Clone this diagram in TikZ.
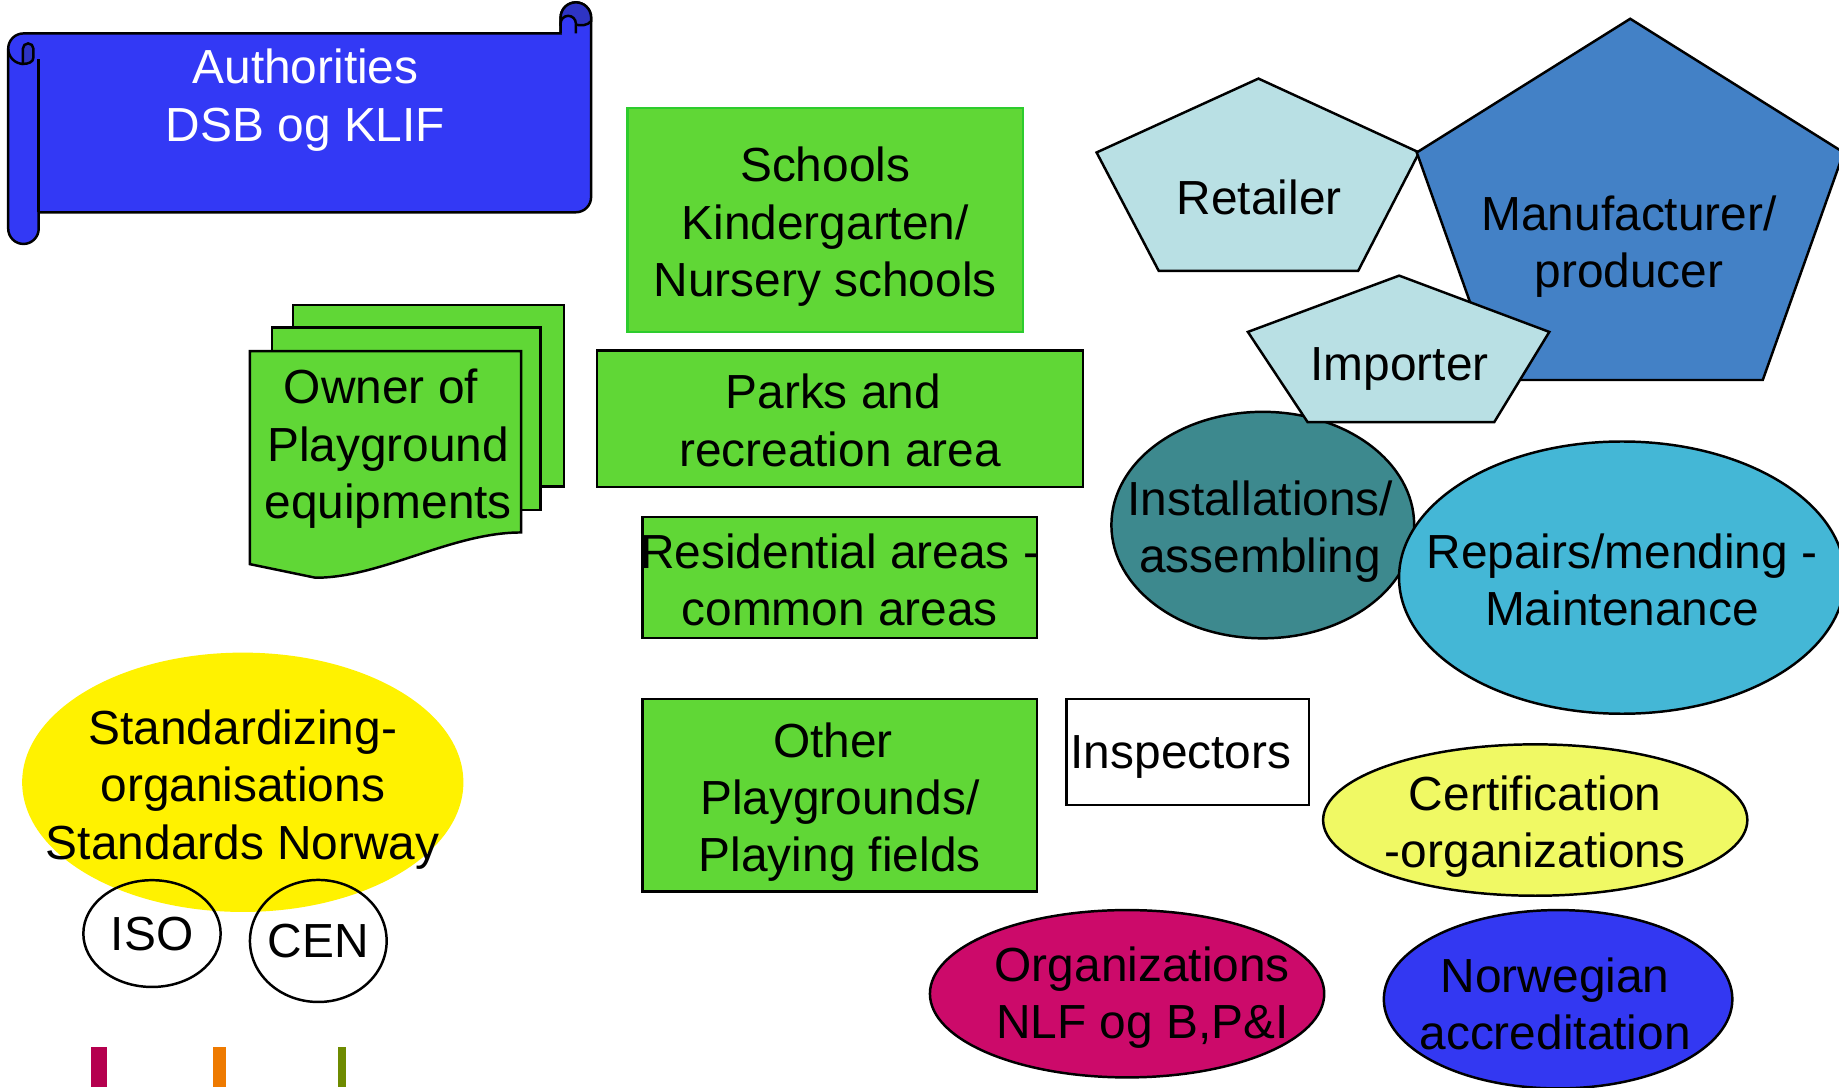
\documentclass[tikz,border=0pt]{standalone}
\usepackage{fontspec}
\setmainfont{Liberation Sans}
\usetikzlibrary{shapes.geometric}

\definecolor{scrollblue}{HTML}{3339F5}
\definecolor{curlblue}{HTML}{2E34C4}
\definecolor{playgreen}{HTML}{60D736}
\definecolor{schoolgreen}{HTML}{2DCC2D}
\definecolor{paleblue}{HTML}{B9E0E4}
\definecolor{makerblue}{HTML}{4381C6}
\definecolor{tealgreen}{HTML}{3D898E}
\definecolor{repaircyan}{HTML}{44B7D6}
\definecolor{certyellow}{HTML}{F0F964}
\definecolor{orgmagenta}{HTML}{CC0A6A}
\definecolor{accblue}{HTML}{3338F2}
\definecolor{barred}{HTML}{B5004E}
\definecolor{barorange}{HTML}{EE7A00}
\definecolor{barolive}{HTML}{6E8B00}

\begin{document}
\begin{tikzpicture}[x=0.01cm, y=-0.01cm, line width=0.6pt,
  txt/.style={font=\fontsize{11.6}{13.9}\selectfont, align=center, inner sep=0pt},
  box/.style={draw, fill=playgreen, inner sep=0pt},
  oval/.style={ellipse, draw, inner sep=0pt},
  curl/.style={fill=curlblue, draw}]
  \useasboundingbox (0,0) rectangle (1568,927);
  \draw[fill=scrollblue] (33,181) -- (491,181) arc (90:0:13) -- (504,15) arc (0:-180:13)
    -- (478,28.5) -- (20,28.5) arc (-90:-180:13) -- (7,195) arc (180:0:13) -- cycle;
  \draw (33,181) -- (33,50);
  \draw (7,41.5) arc (180:90:13);
  \filldraw[curl] (19.5,54.5) -- (19.5,41.5) arc (180:360:4.5) -- (28.5,49)
    .. controls (28.5,53) and (24,54.5) .. (19.5,54.5) -- cycle;
  \filldraw[curl] (478,15) arc (180:360:13) -- (504,18) .. controls (501,22) and (495,22) .. (491,21) -- (478,21) -- cycle;
  \filldraw[fill=scrollblue] (478,28.5) -- (478,20) arc (180:360:6.5) -- (491,28.5);
  \node[txt, text=white] (auth) at (260.5,85.4) {Authorities\\DSB og KLIF};
  \draw[fill=playgreen] (250,260) rectangle (481,415);
  \draw[fill=playgreen] (232,279.4) rectangle (461,435);
  \draw[fill=playgreen] (213,299.3) -- (444.3,299.3) -- (444.3,454)
    .. controls (385,454) and (325,492.6) .. (269,492.6) -- (213,481) -- cycle;
  \node[txt] (owner) at (331,382.7) {Owner of\kern0.3em\\Playground\\equipments};
  \node[box, draw=schoolgreen, minimum width=3.37cm, minimum height=1.91cm,
    label={[txt, yshift=-0.06cm]center:Schools\\Kindergarten/\\Nursery schools}] (schools) at (703.6,187.5) {};
  \node[box, minimum width=4.14cm, minimum height=1.16cm,
    label={[txt, yshift=-0.015cm]center:Parks and\kern0.278em\\recreation area}] (parks) at (716.2,357) {};
  \node[box, minimum width=3.36cm, minimum height=1.03cm,
    label={[txt, yshift=-0.02cm]center:Residential areas -\\common areas}] (resid) at (716,492.4) {};
  \node[box, minimum width=3.36cm, minimum height=1.64cm,
    label={[txt, yshift=-0.06cm]center:Other\kern0.278em\\Playgrounds/\\Playing fields}] (other) at (716,677.9) {};
  \node[ellipse, fill=yellow, inner sep=0pt, minimum width=3.76cm, minimum height=2.21cm,
    label={[txt, yshift=-0.06cm]center:Standardizing-\\organisations\\Standards Norway}] (std) at (207,667) {};
  \node[oval, txt, minimum width=1.17cm, minimum height=0.91cm] (iso) at (129.6,796) {ISO};
  \node[oval, minimum width=1.165cm, minimum height=1.04cm,
    label={[txt]center:CEN}] (cen) at (271.4,802.3) {};
  \fill[barred] (78,893) rectangle (91,927);
  \fill[barorange] (182,893) rectangle (193,927);
  \fill[barolive] (288,893) rectangle (295,927);
  \draw[fill=paleblue] (1073,67) -- (1210,130) -- (1158,231) -- (988,231) -- (935,130) -- cycle;
  \node[txt] (retailer) at (1073.6,168.4) {Retailer};
  \draw[fill=makerblue] (1390,16) -- (1572,130) -- (1503,324) -- (1277,324) -- (1208,130) -- cycle;
  \node[txt] (maker) at (1389,210.4) {Manufacturer/\\producer};
  \node[oval, fill=tealgreen, minimum width=2.58cm, minimum height=1.93cm,
    label={[txt, xshift=-0.022cm, yshift=-0.058cm]center:Installations/\\assembling}] (install) at (1076.7,447.7) {};
  \node[oval, fill=repaircyan, minimum width=3.8cm, minimum height=2.32cm,
    label={[txt, yshift=-0.02cm]center:Repairs/mending -\\Maintenance}] (repair) at (1383,492.5) {};
  \draw[fill=paleblue] (1193,235) -- (1321,283) -- (1274,360) -- (1115,360) -- (1064,283) -- cycle;
  \node[txt] (importer) at (1193.4,314.2) {Importer};
  \node[draw, fill=white, inner sep=0pt, minimum width=2.07cm, minimum height=0.905cm,
    label={[txt, xshift=-0.057cm, yshift=-0.042cm]center:Inspectors}] (insp) at (1012.7,641.2) {};
  \node[oval, fill=certyellow, minimum width=3.615cm, minimum height=1.29cm,
    label={[txt, yshift=-0.058cm]center:Certification\\-organizations}] (cert) at (1309,699.2) {};
  \node[oval, fill=orgmagenta, minimum width=3.36cm, minimum height=1.426cm,
    label={[txt, xshift=0.13cm, yshift=-0.033cm]center:Organizations\\NLF og B,P\&I}] (orgs) at (961,847.3) {};
  \node[oval, fill=accblue, minimum width=2.97cm, minimum height=1.52cm,
    label={[txt, xshift=-0.025cm, yshift=-0.042cm]center:Norwegian\\accreditation}] (accr) at (1328.5,852) {};
\end{tikzpicture}
\end{document}
